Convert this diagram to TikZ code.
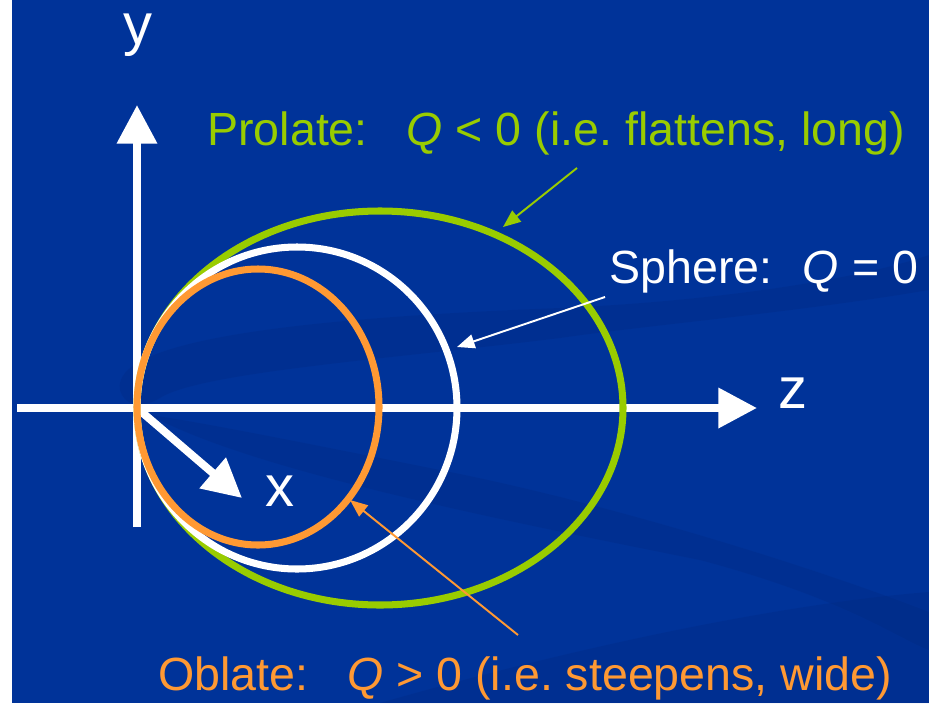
\documentclass[tikz,border=0pt]{standalone}
\usepackage{fontspec}
\setmainfont{Liberation Sans}
\usetikzlibrary{arrows.meta}
\definecolor{slideblue}{HTML}{003399}
\definecolor{swoosh}{HTML}{00287F}
\definecolor{lime}{HTML}{99CC00}
\definecolor{tangerine}{HTML}{FF9933}
\tikzset{
  axis/.style    ={white, line width=4.5pt, -{Triangle[length=22pt, width=22pt]}},
  shell/.style   ={draw=#1, line width=4pt},
  pointer/.style ={#1, line width=1.1pt, -{Triangle[length=10pt, width=8pt]}},
  axislbl/.style ={text=white, font=\fontsize{33}{40}\selectfont, inner sep=0pt,
                   anchor=base, text height=0.55em, text depth=0.2em},
  caption/.style ={text=#1, font=\fontsize{26.5}{31}\selectfont, inner sep=0pt, anchor=base west},
}
\frenchspacing

\begin{document}
\begin{tikzpicture}[x=0.02cm, y=-0.02cm]
% slide background
\fill[white] (0,0) rectangle (929,703);
\fill[slideblue] (12,0) rectangle (929,703);
\begin{scope}[fill=swoosh, fill opacity=0.28]
\fill (120,390) .. controls (110,340) and (300,318) .. (560,308)
  .. controls (700,302) and (850,282) .. (929,255) -- (929,290)
  .. controls (800,312) and (650,325) .. (560,338)
  .. controls (400,358) and (200,372) .. (160,398)
  .. controls (140,410) and (124,405) .. (120,390);
\fill (150,415) .. controls (250,470) and (500,520) .. (700,560)
  .. controls (850,600) and (900,640) .. (929,650) -- (929,612)
  .. controls (800,562) and (600,502) .. (450,472)
  .. controls (300,442) and (200,422) .. (150,415);
\fill (380,703) .. controls (600,640) and (800,602) .. (929,592) -- (929,703) -- cycle;
\end{scope}

% axes
\coordinate (O) at (137,408);
\coordinate (ybot) at (137,527);
\coordinate (ytip) at (137,105);
\coordinate (zbot) at (17,408);
\coordinate (ztip) at (757,408);
\coordinate (xtip) at (242,498);
\draw[axis] (ybot) -- (ytip);
\draw[axis] (zbot) -- (ztip);
\draw[axis] (O) -- (xtip);
\node[axislbl] (ylbl) at (138,44) {y};
\node[axislbl] (zlbl) at (793,408) {z};
\node[axislbl] (xlbl) at (280,506) {x};

% shapes
\coordinate (cpro) at (380,408);
\coordinate (csph) at (297,408);
\coordinate (cobl) at (258,407);
\draw[shell=lime] (cpro) ellipse [x radius=243, y radius=197];
\draw[shell=white] (csph) ellipse [x radius=160, y radius=161];
\draw[shell=tangerine] (cobl) ellipse [x radius=121, y radius=138];

% captions
\node[caption=lime] (prolate) at (207,145) {Prolate:\ \ \ \emph{Q} < 0 (i.e. flattens, long)};
\node[caption=white] (sphere) at (609,283) {Sphere:\ \ \hspace{0.1em}\emph{Q} = 0};
\node[caption=tangerine] (oblate) at (158,690) {Oblate:\ \ \ \emph{Q} > 0 (i.e. steepens, wide)};

\coordinate (pfrom) at (577,168);
\coordinate (pto) at (503,227);
\coordinate (sfrom) at (605,297);
\coordinate (sto) at (457,347);
\coordinate (ofrom) at (518,635);
\coordinate (oto) at (350,500);
\draw[pointer=lime] (pfrom) -- (pto);
\draw[pointer=white] (sfrom) -- (sto);
\draw[pointer=tangerine] (ofrom) -- (oto);
\end{tikzpicture}
\end{document}
